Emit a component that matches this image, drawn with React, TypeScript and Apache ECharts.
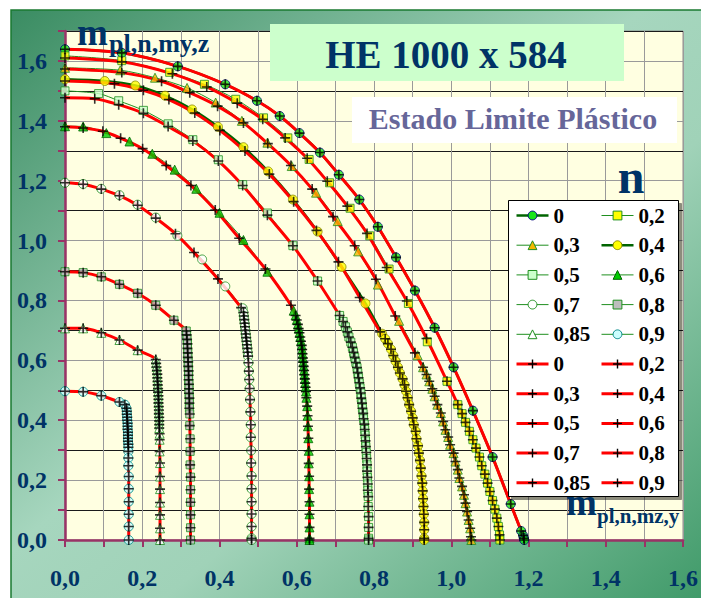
import { useEffect, useRef } from 'react';
import * as echarts from 'echarts';

type P = [number, number];

// ---- data (x = m_pl,n,mz,y ; y = m_pl,n,my,z) ----
const curve00: P[] = [[0,1.639],[0.147,1.627],[0.292,1.582],[0.415,1.522],[0.497,1.467],[0.556,1.416],[0.607,1.359],[0.660,1.294],[0.709,1.220],[0.762,1.137],[0.810,1.046],[0.857,0.944],[0.906,0.833],[0.957,0.709],[1.006,0.577],[1.056,0.432],[1.107,0.277],[1.154,0.120],[1.181,0.030],[1.186,0.015],[1.188,0.006],[1.189,0]];

const green02Top: P[] = [[0,1.617],[0.147,1.601],[0.271,1.562],[0.361,1.522],[0.442,1.472],[0.514,1.410],[0.577,1.343],[0.632,1.271],[0.685,1.193],[0.738,1.108],[0.789,1.016],[0.839,0.905],[0.889,0.790],[0.938,0.662],[0.989,0.530]];
const red02Top: P[] = [[0,1.610],[0.147,1.597],[0.278,1.557],[0.367,1.513],[0.446,1.459],[0.512,1.405],[0.570,1.343],[0.627,1.275],[0.679,1.198],[0.731,1.115],[0.782,1.024],[0.833,0.910],[0.885,0.798],[0.936,0.673],[0.989,0.530]];
const tail02: P[] = [[1.017,0.452],[1.028,0.422],[1.037,0.393],[1.047,0.363],[1.056,0.335],[1.064,0.307],[1.073,0.277],[1.079,0.248],[1.087,0.220],[1.094,0.190],[1.100,0.162],[1.107,0.132],[1.113,0.103],[1.118,0.073],[1.122,0.045],[1.125,0.017],[1.126,0]];

const green03Top: P[] = [[0,1.577],[0.143,1.569],[0.233,1.544],[0.316,1.510],[0.390,1.461],[0.458,1.400],[0.524,1.327],[0.587,1.249],[0.650,1.160],[0.706,1.065],[0.759,0.964],[0.810,0.853],[0.865,0.732],[0.913,0.617]];
const red03Top: P[] = [[0,1.573],[0.147,1.561],[0.250,1.532],[0.323,1.494],[0.395,1.449],[0.462,1.393],[0.525,1.324],[0.585,1.251],[0.640,1.172],[0.694,1.080],[0.750,0.983],[0.805,0.871],[0.855,0.748],[0.906,0.625]];
const tail03: P[] = [[0.927,0.577],[0.936,0.553],[0.943,0.530],[0.951,0.505],[0.957,0.480],[0.964,0.452],[0.973,0.424],[0.979,0.396],[0.985,0.368],[0.992,0.344],[0.997,0.318],[1.006,0.290],[1.011,0.262],[1.017,0.235],[1.021,0.207],[1.028,0.179],[1.033,0.151],[1.037,0.123],[1.041,0.095],[1.045,0.067],[1.049,0.039],[1.051,0.011],[1.052,0]];

const green04Top: P[] = [[0,1.539],[0.103,1.533],[0.182,1.518],[0.259,1.484],[0.329,1.438],[0.396,1.380],[0.462,1.312],[0.526,1.231],[0.590,1.137],[0.654,1.030],[0.716,0.912],[0.778,0.790],[0.821,0.689]];
const red04Top: P[] = [[0,1.533],[0.128,1.524],[0.203,1.502],[0.269,1.471],[0.336,1.426],[0.401,1.368],[0.466,1.299],[0.529,1.222],[0.592,1.130],[0.651,1.034],[0.708,0.929],[0.763,0.810],[0.816,0.695]];
const tail04: P[] = [[0.829,0.672],[0.836,0.656],[0.844,0.637],[0.850,0.616],[0.856,0.597],[0.862,0.577],[0.867,0.558],[0.874,0.538],[0.879,0.518],[0.883,0.497],[0.887,0.475],[0.891,0.452],[0.896,0.430],[0.900,0.408],[0.903,0.385],[0.908,0.363],[0.910,0.338],[0.914,0.315],[0.916,0.290],[0.919,0.266],[0.921,0.240],[0.923,0.214],[0.925,0.190],[0.926,0.164],[0.927,0.138],[0.928,0.112],[0.929,0.086],[0.930,0.059],[0.930,0.034],[0.930,0.006],[0.930,0]];

const green05Top: P[] = [[0,1.500],[0.087,1.491],[0.139,1.467],[0.203,1.435],[0.267,1.390],[0.331,1.337],[0.397,1.270],[0.460,1.187],[0.524,1.092]];
const red05Top: P[] = [[0,1.477],[0.077,1.474],[0.139,1.454],[0.203,1.425],[0.267,1.381],[0.331,1.333],[0.397,1.266],[0.460,1.184],[0.524,1.085]];
const tail05: P[] = [[0.590,0.983],[0.654,0.865],[0.711,0.750],[0.720,0.730],[0.726,0.712],[0.731,0.695],[0.735,0.678],[0.740,0.661],[0.744,0.644],[0.747,0.627],[0.750,0.610],[0.753,0.593],[0.756,0.576],[0.758,0.559],[0.760,0.542],[0.762,0.525],[0.764,0.508],[0.766,0.491],[0.767,0.474],[0.769,0.457],[0.770,0.440],[0.772,0.423],[0.773,0.405],[0.775,0.387],[0.776,0.369],[0.777,0.350],[0.778,0.331],[0.779,0.312],[0.780,0.292],[0.781,0.272],[0.782,0.251],[0.782,0.230],[0.783,0.209],[0.784,0.187],[0.784,0.166],[0.785,0.145],[0.785,0.112],[0.786,0.078],[0.786,0.042],[0.786,0.006],[0.786,0]];

const green06Top: P[] = [[0,1.382],[0.047,1.381],[0.107,1.359],[0.167,1.331],[0.226,1.290],[0.284,1.237],[0.340,1.173],[0.400,1.093],[0.462,1.002],[0.524,0.896],[0.592,0.766]];
const red06Top: P[] = [[0,1.380],[0.047,1.376],[0.098,1.365],[0.144,1.342],[0.201,1.307],[0.262,1.251],[0.326,1.184],[0.389,1.102],[0.451,1.008],[0.519,0.905],[0.585,0.784]];
const tail06: P[] = [[0.597,0.750],[0.600,0.735],[0.603,0.720],[0.605,0.706],[0.607,0.692],[0.609,0.678],[0.611,0.664],[0.613,0.650],[0.614,0.636],[0.615,0.622],[0.616,0.608],[0.617,0.594],[0.618,0.580],[0.619,0.566],[0.620,0.552],[0.621,0.538],[0.622,0.524],[0.623,0.510],[0.624,0.496],[0.625,0.475],[0.627,0.447],[0.628,0.415],[0.629,0.380],[0.630,0.340],[0.631,0.298],[0.631,0.256],[0.632,0.213],[0.632,0.170],[0.633,0.128],[0.633,0.086],[0.633,0.042],[0.633,0.006],[0.633,0]];

const green07Top: P[] = [[0,1.193],[0.047,1.189],[0.094,1.173],[0.141,1.152],[0.188,1.120],[0.235,1.077],[0.291,1.016],[0.355,0.937],[0.415,0.847],[0.460,0.774]];
const red07Top: P[] = [[0,1.193],[0.047,1.188],[0.094,1.172],[0.141,1.150],[0.188,1.118],[0.235,1.075],[0.286,1.023],[0.334,0.960],[0.396,0.872],[0.456,0.776]];
const tail07: P[] = [[0.462,0.760],[0.463,0.748],[0.464,0.736],[0.465,0.724],[0.466,0.712],[0.467,0.700],[0.468,0.688],[0.469,0.676],[0.470,0.664],[0.471,0.652],[0.472,0.640],[0.473,0.627],[0.474,0.614],[0.475,0.592],[0.476,0.564],[0.477,0.536],[0.478,0.506],[0.479,0.469],[0.480,0.428],[0.481,0.385],[0.481,0.343],[0.482,0.299],[0.482,0.257],[0.483,0.214],[0.483,0.171],[0.483,0.128],[0.483,0.087],[0.483,0.045],[0.483,0.006],[0.483,0]];

const curve08: P[] = [[0,0.896],[0.047,0.893],[0.094,0.879],[0.141,0.854],[0.188,0.824],[0.235,0.784],[0.282,0.734],[0.314,0.698],[0.315,0.685],[0.316,0.670],[0.317,0.655],[0.317,0.640],[0.318,0.625],[0.318,0.610],[0.319,0.595],[0.319,0.580],[0.320,0.565],[0.320,0.550],[0.320,0.535],[0.321,0.520],[0.321,0.505],[0.321,0.490],[0.322,0.474],[0.322,0.457],[0.322,0.440],[0.323,0.421],[0.323,0.382],[0.324,0.338],[0.324,0.296],[0.324,0.251],[0.325,0.210],[0.325,0.168],[0.325,0.126],[0.325,0.084],[0.325,0.041],[0.325,0]];

const curve085: P[] = [[0,0.707],[0.047,0.707],[0.094,0.692],[0.141,0.668],[0.188,0.634],[0.235,0.603],[0.236,0.590],[0.237,0.578],[0.238,0.566],[0.239,0.554],[0.239,0.542],[0.240,0.530],[0.240,0.518],[0.241,0.506],[0.241,0.494],[0.242,0.482],[0.242,0.470],[0.242,0.458],[0.243,0.446],[0.243,0.434],[0.243,0.422],[0.244,0.410],[0.244,0.398],[0.244,0.386],[0.244,0.374],[0.245,0.355],[0.245,0.335],[0.245,0.296],[0.246,0.257],[0.246,0.212],[0.246,0.170],[0.246,0.125],[0.246,0.084],[0.246,0.039],[0.246,0]];

const curve09: P[] = [[0,0.497],[0.047,0.495],[0.094,0.482],[0.141,0.461],[0.155,0.452],[0.159,0.440],[0.160,0.430],[0.160,0.420],[0.161,0.410],[0.161,0.400],[0.162,0.390],[0.162,0.380],[0.162,0.370],[0.163,0.360],[0.163,0.350],[0.163,0.340],[0.163,0.330],[0.164,0.320],[0.164,0.310],[0.164,0.296],[0.164,0.274],[0.164,0.248],[0.165,0.212],[0.165,0.171],[0.165,0.128],[0.165,0.086],[0.165,0.045],[0.165,0]];

const nLabels = ['0', '0,2', '0,3', '0,4', '0,5', '0,6', '0,7', '0,8', '0,85', '0,9'];

const greenCurves: P[][] = [
  curve00,
  [...green02Top, ...tail02],
  [...green03Top, ...tail03],
  [...green04Top, ...tail04],
  [...green05Top, ...tail05],
  [...green06Top, ...tail06],
  [...green07Top, ...tail07],
  curve08,
  curve085,
  curve09,
];
const redCurves: P[][] = [
  curve00,
  [...red02Top, ...tail02],
  [...red03Top, ...tail03],
  [...red04Top, ...tail04],
  [...red05Top, ...tail05],
  [...red06Top, ...tail06],
  [...red07Top, ...tail07],
  curve08,
  curve085,
  curve09,
];

// ---- styles ----
const G = '#1f8f1f';
const greenStyles = [
  { symbol: 'circle', size: 9, fill: '#19e619', border: '#000080', line: '#006400', lw: 2.5 },
  { symbol: 'rect', size: 8, fill: '#ffff00', border: G, line: G, lw: 1 },
  { symbol: 'triangle', size: 9, fill: '#f2b800', border: G, line: G, lw: 1 },
  { symbol: 'circle', size: 9, fill: '#ffff00', border: '#8a8a00', line: '#006400', lw: 2.5 },
  { symbol: 'rect', size: 8, fill: '#ccffcc', border: G, line: G, lw: 1 },
  { symbol: 'triangle', size: 9, fill: '#00cc00', border: '#006600', line: G, lw: 1 },
  { symbol: 'circle', size: 9, fill: '#ffffff', border: G, line: G, lw: 1 },
  { symbol: 'rect', size: 8, fill: '#bdbdbd', border: G, line: G, lw: 1 },
  { symbol: 'triangle', size: 9, fill: '#ffffff', border: G, line: G, lw: 1 },
  { symbol: 'circle', size: 9, fill: '#ccffff', border: '#008888', line: G, lw: 1 },
];
const CROSS = 'path://M4.2,0L5.8,0L5.8,4.2L10,4.2L10,5.8L5.8,5.8L5.8,10L4.2,10L4.2,5.8L0,5.8L0,4.2L4.2,4.2Z';
const SERIF = "'Liberation Serif', 'Times New Roman', serif";
const NAVY = '#003366';
const AXIS = '#993366';

const commaLabel = (v: number) => {
  const k = Math.round(v * 10);
  return k % 2 === 0 ? (k / 10).toFixed(1).replace('.', ',') : '';
};

export default function App() {
  const ref = useRef<HTMLDivElement>(null);
  useEffect(() => {
    if (!ref.current) return;
    const chart = echarts.init(ref.current, undefined, { renderer: 'svg' });

    // green connecting lines (legend entries, symbols drawn by separate scatter layer)
    const greenLines = greenCurves.map((d, i) => {
      const s = greenStyles[i];
      return {
        type: 'line', name: 'g' + i, data: d, z: 2, symbol: s.symbol, symbolSize: s.size, showSymbol: false,
        itemStyle: { color: s.fill, borderColor: s.border, borderWidth: 1 },
        lineStyle: { color: s.line, width: s.lw }, smooth: 0.3, silent: true, emphasis: { disabled: true },
      };
    });
    const redLines = redCurves.map((d, i) => ({
      type: 'line', name: 'r' + i, data: d, z: 3, symbol: CROSS, symbolSize: 9, showSymbol: false,
      itemStyle: { color: '#000', borderWidth: 0 }, lineStyle: { color: '#ff0000', width: 3 },
      smooth: 0.3, silent: true, emphasis: { disabled: true },
    }));
    const greenMarks = greenCurves.map((d, i) => {
      const s = greenStyles[i];
      return {
        type: 'scatter', name: 'gm' + i, data: d, z: 4, symbol: s.symbol, symbolSize: s.size,
        itemStyle: { color: s.fill, borderColor: s.border, borderWidth: 1 }, silent: true, emphasis: { disabled: true },
      };
    });
    const crosses = redCurves.map((d, i) => ({
      type: 'scatter', name: 'x' + i, data: d, z: 5, symbol: CROSS, symbolSize: 10,
      itemStyle: { color: '#000' }, silent: true, emphasis: { disabled: true },
    }));

    const legendItem = (name: string) => ({
      name,
      itemStyle: { borderWidth: name[0] === 'g' ? 1 : 0 },
    });
    const col1 = [0, 2, 4, 6, 8];
    const col2 = [1, 3, 5, 7, 9];
    const legendCommon = {
      orient: 'vertical', top: 205, padding: 0, itemGap: 8.7, itemWidth: 32, itemHeight: 11,
      selectedMode: false, z: 7,
      formatter: (name: string) => nLabels[Number(name.slice(1))],
      textStyle: { fontFamily: SERIF, fontWeight: 'bold', fontSize: 21, lineHeight: 21, color: '#000' },
      lineStyle: { width: 'inherit' },
    };

    const txt = (text: string, x: number, y: number, font: string, fill: string, align: string, extra: any = {}) => ({
      type: 'text', z: 8, silent: true,
      style: { text, x, y, align, verticalAlign: 'middle', textAlign: align, textVerticalAlign: 'middle', fill, font, ...extra },
    });

    const option: any = {
      animation: false,
      grid: { left: 65, right: 12, top: 31, bottom: 58, show: true, backgroundColor: '#ffffe1', borderColor: '#8c8c8c', borderWidth: 1 },
      xAxis: {
        type: 'value', min: 0, max: 1.6, interval: 0.1,
        axisLine: { show: true, onZero: false, lineStyle: { color: AXIS, width: 2.5 } },
        axisTick: { show: true, length: 7, lineStyle: { color: AXIS, width: 2 } },
        axisLabel: { margin: 26, formatter: commaLabel, fontFamily: SERIF, fontWeight: 'bold', fontSize: 24, color: NAVY },
        splitLine: { show: true, lineStyle: { color: '#9a9a9a', width: 1 } },
      },
      yAxis: {
        type: 'value', min: 0, max: 1.7, interval: 0.1,
        axisLine: { show: true, onZero: false, lineStyle: { color: AXIS, width: 2.5 } },
        axisTick: { show: true, length: 7, lineStyle: { color: AXIS, width: 2 } },
        axisLabel: { margin: 18, formatter: commaLabel, fontFamily: SERIF, fontWeight: 'bold', fontSize: 24, color: NAVY },
        splitLine: { show: true, lineStyle: { color: ['#9a9a9a', '#1a1a1a'], width: 1 } },
      },
      legend: [
        { ...legendCommon, left: 515, data: [...col1.map((i) => legendItem('g' + i)), ...col1.map((i) => legendItem('r' + i))] },
        { ...legendCommon, left: 600, data: [...col2.map((i) => legendItem('g' + i)), ...col2.map((i) => legendItem('r' + i))] },
      ],
      graphic: [
        {
          type: 'rect', z: -1, silent: true,
          shape: { x: 11, y: 10, width: 700, height: 600 },
          style: {
            fill: new echarts.graphic.LinearGradient(0, 0, 1, 1, [
              { offset: 0, color: '#3a8c62' },
              { offset: 0.45, color: '#a6d6be' },
              { offset: 0.6, color: '#a0d2b8' },
              { offset: 1, color: '#3c9866' },
            ]),
            stroke: '#1a7a30', lineWidth: 1.5,
          },
        },
        { type: 'rect', z: 7, silent: true, shape: { x: 270, y: 24, width: 354, height: 57 }, style: { fill: '#ccffcc' } },
        txt('HE 1000 x 584', 446, 54, `bold 39px ${SERIF}`, NAVY, 'center'),
        { type: 'rect', z: 7, silent: true, shape: { x: 352, y: 97, width: 325, height: 46 }, style: { fill: '#ffffff' } },
        txt('Estado Limite Plástico', 513, 118, `bold 30px ${SERIF}`, '#666699', 'center'),
        txt('n', 631, 176, `bold 48px ${SERIF}`, NAVY, 'center'),
        txt('m', 77, 32.5, `bold 37px ${SERIF}`, NAVY, 'left'),
        txt('pl,n,my,z', 109, 43, `bold 26px ${SERIF}`, NAVY, 'left'),
        txt('m', 566, 502.5, `bold 37px ${SERIF}`, NAVY, 'left', { lineHeight: 18 }),
        txt('pl,n,mz,y', 597, 515.5, `bold 21px ${SERIF}`, NAVY, 'left', { lineHeight: 16 }),
        {
          type: 'rect', z: 6, silent: true,
          shape: { x: 508.5, y: 200.5, width: 170, height: 296 },
          style: { fill: '#ffffff', stroke: '#000000', lineWidth: 1, shadowColor: 'rgba(0,0,0,0.45)', shadowOffsetX: 3, shadowOffsetY: 3, shadowBlur: 0 },
        },
      ],
      series: [...greenLines, ...redLines, ...greenMarks, ...crosses],
    };
    chart.setOption(option);
    return () => chart.dispose();
  }, []);

  return (
    <div style={{ position: 'absolute', left: 0, top: 0, width: 701, height: 598, background: '#ffffff', overflow: 'hidden' }}>
      <div ref={ref} style={{ width: 701, height: 598 }} />
    </div>
  );
}
